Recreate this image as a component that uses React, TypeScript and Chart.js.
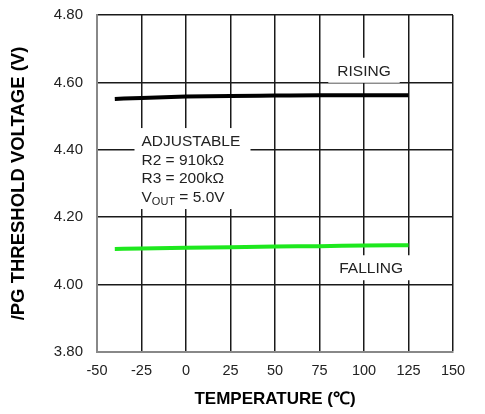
import React, { useEffect, useRef } from "react";
import { Chart, registerables } from "chart.js";

Chart.register(...registerables);

const temperatures = [-40, -25, 0, 25, 50, 75, 100, 125];
const rising = [4.551, 4.554, 4.558, 4.56, 4.561, 4.562, 4.562, 4.562];
const falling = [4.106, 4.107, 4.109, 4.111, 4.113, 4.114, 4.116, 4.117];
const xTicks = [-50, -25, 0, 25, 50, 75, 100, 125, 150];
const yTicks = [3.8, 4.0, 4.2, 4.4, 4.6, 4.8];
const noteLines = ["ADJUSTABLE", "R2 = 910kΩ", "R3 = 200kΩ"];
const risingLabel = "RISING";
const fallingLabel = "FALLING";

const FONT = '"Liberation Sans", Arial, sans-serif';
const NOTE_FONT = `15.5px ${FONT}`;

const labelPlugin = {
  id: "curveLabels",
  beforeDatasetsDraw(chart: any) {
    const { ctx } = chart;
    const x = chart.scales.x;
    const y = chart.scales.y;
    ctx.save();
    ctx.font = NOTE_FONT;
    ctx.textBaseline = "middle";

    const labelAt = (text: string, xv: number, yv: number) => {
      const cx = x.getPixelForValue(xv);
      const cy = y.getPixelForValue(yv);
      const w = ctx.measureText(text).width + 18;
      const h = 25;
      ctx.fillStyle = "#fff";
      ctx.fillRect(cx - w / 2, cy - h / 2, w, h);
      ctx.fillStyle = "#222";
      ctx.textAlign = "center";
      ctx.fillText(text, cx, cy + 1);
    };
    labelAt(risingLabel, 100, 4.636);
    labelAt(fallingLabel, 104, 4.05);

    // note block
    const left = x.getPixelForValue(-25);
    const top = y.getPixelForValue(4.423);
    const step = 18.5;
    ctx.fillStyle = "#fff";
    ctx.fillRect(left - 7, top - 14, 116, 81);
    ctx.fillStyle = "#222";
    ctx.textAlign = "left";
    noteLines.forEach((t, i) => ctx.fillText(t, left, top + i * step));
    const vy = top + 3 * step;
    ctx.fillText("V", left, vy);
    const vw = ctx.measureText("V").width;
    ctx.font = `11px ${FONT}`;
    ctx.fillText("OUT", left + vw, vy + 4);
    const ow = ctx.measureText("OUT").width;
    ctx.font = NOTE_FONT;
    ctx.fillText(" = 5.0V", left + vw + ow, vy);
    ctx.restore();
  },
};

export default function App() {
  const ref = useRef<HTMLCanvasElement>(null);
  useEffect(() => {
    if (!ref.current) return;
    const chart = new Chart(ref.current, {
      type: "line",
      data: {
        datasets: [
          {
            label: risingLabel,
            data: temperatures.map((t, i) => ({ x: t, y: rising[i] })),
            borderColor: "#000",
            borderWidth: 4,
            pointRadius: 0,
            tension: 0.4,
            cubicInterpolationMode: "monotone",
          },
          {
            label: fallingLabel,
            data: temperatures.map((t, i) => ({ x: t, y: falling[i] })),
            borderColor: "#1ee81e",
            borderWidth: 4,
            pointRadius: 0,
            tension: 0.4,
            cubicInterpolationMode: "monotone",
          },
        ],
      },
      options: {
        responsive: false,
        animation: false,
        layout: { padding: { top: 0, right: 32, left: 0, bottom: 0 } },
        plugins: { legend: { display: false }, tooltip: { enabled: false } },
        scales: {
          x: {
            type: "linear",
            min: -50,
            max: 150,
            afterBuildTicks: (s: any) => {
              s.ticks = xTicks.map((v) => ({ value: v }));
            },
            afterFit: (s: any) => {
              s.height = 62;
            },
            grid: { color: "#1a1a1a", lineWidth: 1.5, drawTicks: false },
            border: { color: "#888", width: 2 },
            ticks: {
              padding: 10,
              maxRotation: 0,
              autoSkip: false,
              color: "#222",
              font: { family: FONT, size: 14.5 },
              callback: (v: any) => String(v),
            },
            title: {
              display: true,
              text: "TEMPERATURE (℃)",
              color: "#000",
              font: { family: FONT, size: 17, weight: "bold" },
              padding: { top: 10 },
            },
          },
          y: {
            type: "linear",
            min: 3.8,
            max: 4.8,
            afterBuildTicks: (s: any) => {
              s.ticks = yTicks.map((v) => ({ value: v }));
            },
            afterFit: (s: any) => {
              s.width = 97;
              s.paddingTop = 15;
              s.paddingBottom = 10;
            },
            grid: { color: "#1a1a1a", lineWidth: 1.5, drawTicks: false },
            border: { color: "#888", width: 2 },
            ticks: {
              padding: 14,
              color: "#222",
              font: { family: FONT, size: 15 },
              callback: (v: any) => Number(v).toFixed(2),
            },
            title: {
              display: true,
              text: "/PG THRESHOLD VOLTAGE (V)",
              color: "#000",
              font: { family: FONT, size: 18.5, weight: "bold" },
              padding: { top: 8, bottom: 0 },
            },
          },
        },
      },
      plugins: [labelPlugin],
    });
    return () => chart.destroy();
  }, []);
  return (
    <div style={{ position: "absolute", left: 0, top: 0, width: 485, height: 414, background: "#fff" }}>
      <canvas ref={ref} width={485} height={414} />
    </div>
  );
}
